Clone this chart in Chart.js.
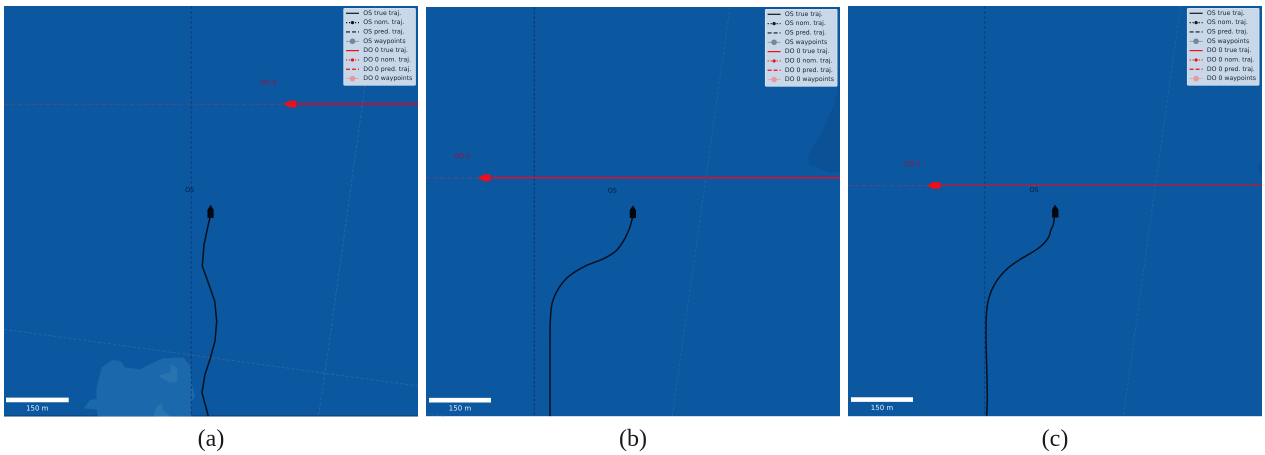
<!DOCTYPE html>
<html>
<head>
<meta charset="utf-8">
<title>Trajectories</title>
<script src="https://cdn.jsdelivr.net/npm/chart.js@4"></script>
<style>
    html, body { margin: 0; padding: 0; background: #fff; overflow: hidden; }
    canvas { position: absolute; top: 0; filter: blur(0.45px); }
</style>
</head>
<body>
<canvas id="panelA" style="left:4px"></canvas>
<canvas id="panelB" style="left:426px"></canvas>
<canvas id="panelC" style="left:848px"></canvas>
<script>
// --- DATA --- (x, y, origin at its top left corner, 150 m = 62 units)
const legendLabels = ['OS true traj.', 'OS nom. traj.', 'OS pred. traj.', 'OS waypoints',
    'DO 0 true traj.', 'DO 0 nom. traj.', 'DO 0 pred. traj.', 'DO 0 waypoints'];
const captions = ['(a)', '(b)', '(c)'];
const scaleText = '150 m';
const osText = 'OS';
const doText = 'DO 0';

const trajA = [[206,212],[204.3,219],[200,239],[198.3,260.7],[204.3,277.3],[210.7,295.7],[212.7,315.7],[211,335.7],[206,354],[201,369],[198,387.3],[204.3,411]];
const trajB = [[206.5,211],[204.7,218],[203,223],[198.3,233],[189.7,244.7],[177.3,252.3],[159,259.7],[143,269.7],[133,281.3],[126.3,296.3],[124.3,314.7],[124,351.3],[124,410]];
const trajC = [[206.3,211.7],[205.3,219],[203,224],[200.3,232.3],[191,242.3],[172,254],[160.3,262.3],[149.7,274],[142,289],[138.7,305],[138,329],[138.7,362.3],[139.3,392.3],[138.7,410.7]];

const osPredA = [[187.3,0],[187.3,411]];
const osPredB = [[108.3,0],[108.3,410]];
const osPredC = [[136.7,0],[136.7,411]];

const doTrueA = [[292,98.3],[414,98.3]];
const doTrueB = [[64,171],[414,171]];
const doTrueC = [[92,179.7],[414,179.7]];
const doPredA = [[0,98.5],[280,98.5]];
const doPredB = [[0,171.2],[52,171.2]];
const doPredC = [[0,180],[79,180]];

const osShipA = [[206.7,199.7],[209.3,204],[209.3,212],[203.7,212],[203.7,204]];
const osShipB = [[207,199],[209.7,203.5],[209.7,211.3],[204,211.3],[204,203.5]];
const osShipC = [[207,199.3],[210,204],[210,211.7],[204.3,211.7],[204.3,204]];
const doShipA = [[279.5,98.3],[285,95.5],[292,95],[292,101.5],[285,101]];
const doShipB = [[52.3,171],[58,168],[64,168],[64,174.3],[58,174.3]];
const doShipC = [[79.3,179.7],[85,176.7],[92,176.7],[92,182.7],[85,182.9]];

const laneA1 = [[372,0],[341.7,219],[321,367.3],[314.3,411]];
const laneA2 = [[0,324],[187.7,349.7],[321,368],[414,380.7]];
const laneB1 = [[304,0],[273.3,218],[246.3,410]];
const laneB2 = [[0,407.3],[19,410]];
const laneC1 = [[332.5,0],[302,219],[275.3,410.7]];

const landA = [[80,403],[86,395],[92.7,394],[92.7,382.3],[97.7,362.3],[107.7,355],[116,355.7],[121,362.3],[136,364.3],[146,359],[159.3,353],[179.3,352.3],[186,360.7],[187.7,379],[191,391.7],[187.7,395.7],[186.7,411],[94.3,411],[92.7,404]];
const landPatchA1 = [[154.3,370.7],[166,367.3],[166.7,359],[172.7,362.3],[173.3,375.7],[166,377.3]];
const landPatchA2 = [[150,411],[152,402.3],[157.7,397.3],[159.3,405.7],[166,411]];
const deepB = [[414,75],[409,96.3],[399,119.7],[382.3,149.7],[384,158],[404,165.3],[414,164.7]];
const deepC = [[414,154],[409.7,160.7],[411.3,166.7],[414,168]];

const scaleBarA = [[2,394.7],[64.7,394.7]];
const scaleBarB = [[3,394],[65,394]];
const scaleBarC = [[3,394.3],[65,394.3]];

const osLabelPos = [[185.7,184.7],[186.3,184.3],[186,184.7]];
const doLabelPos = [[264.7,77],[36.3,149.7],[64.3,158.7]];
const scaleLabelPos = [[33.3,403.3],[34,402.3],[34,403]];
const legendPos = [[339.7,2.3],[339.3,2.3],[339.3,2.3]];

const SEA = '#0c58a0';
const FONT = '"DejaVu Sans"';

// --- HELPERS ---
const pts = (arr) => arr.map(p => ({ x: p[0], y: p[1] }));

function line(arr, color, width, dash, tension) {
    return { data: pts(arr), showLine: true, pointRadius: 0, borderColor: color, borderWidth: width, borderDash: dash || [], fill: false, tension: tension || 0 };
}

function poly(arr, color) {
    return { data: pts(arr.concat([arr[0]])), showLine: true, pointRadius: 0, borderColor: color, borderWidth: 0.5, backgroundColor: color, fill: 'shape', tension: 0 };
}

// sample of one legend row
function drawSample(ctx, x, y, kind, color, wpColor) {
    const w = 13;
    ctx.save();
    ctx.strokeStyle = color;
    ctx.fillStyle = color;
    ctx.lineWidth = 1.2;
    ctx.beginPath();
    if (kind === 'nom') ctx.setLineDash([1.2, 1.8]);
    if (kind === 'pred') ctx.setLineDash([4, 2]);
    if (kind === 'way') { ctx.strokeStyle = wpColor; ctx.lineWidth = 0.7; }
    ctx.moveTo(x, y);
    ctx.lineTo(x + w, y);
    ctx.stroke();
    ctx.setLineDash([]);
    if (kind === 'nom' || kind === 'way') {
        ctx.fillStyle = kind === 'way' ? wpColor : color;
        ctx.beginPath();
        ctx.arc(x + w / 2, y, kind === 'way' ? 2.8 : 1.6, 0, Math.PI * 2);
        ctx.fill();
    }
    ctx.restore();
}

// sea background, text labels and the legend box
const panelPlugin = {
    id: 'panelPlugin',
    beforeDraw(chart) {
        const a = chart.chartArea;
        chart.ctx.fillStyle = SEA;
        chart.ctx.fillRect(a.left, a.top, a.right - a.left, a.bottom - a.top);
    },
    afterDatasetsDraw(chart) {
        const ctx = chart.ctx;
        const i = chart.options.plugins.panelPlugin.index;
        const sx = chart.scales.x, sy = chart.scales.y;
        const put = (txt, p, color, size) => {
            ctx.fillStyle = color;
            ctx.font = size + 'px ' + FONT;
            ctx.textAlign = 'center';
            ctx.textBaseline = 'middle';
            ctx.fillText(txt, sx.getPixelForValue(p[0]), sy.getPixelForValue(p[1]));
        };
        ctx.save();
        put(osText, osLabelPos[i], '#04183a', 6.4);
        put(doText, doLabelPos[i], '#9c1238', 6.4);
        put(scaleText, scaleLabelPos[i], '#e4eef8', 7);

        // legend box
        const lx = sx.getPixelForValue(legendPos[i][0]);
        const ly = sy.getPixelForValue(legendPos[i][1]);
        ctx.fillStyle = '#c9d8e8';
        ctx.strokeStyle = '#dbe5ef';
        ctx.lineWidth = 0.7;
        ctx.beginPath();
        ctx.roundRect(lx, ly, 71.8, 77, 1);
        ctx.fill();
        ctx.stroke();
        const kinds = ['true', 'nom', 'pred', 'way'];
        legendLabels.forEach((txt, r) => {
            const y = ly + 5 + r * 9.33;
            const isOs = r < 4;
            drawSample(ctx, lx + 2.3, y, kinds[r % 4], isOs ? '#10151c' : '#ee1111', isOs ? '#76879a' : '#e69aa0');
            ctx.fillStyle = '#18222e';
            ctx.font = '6.2px ' + FONT;
            ctx.textAlign = 'left';
            ctx.textBaseline = 'middle';
            ctx.fillText(txt, lx + 19.6, y);
        });
        ctx.restore();
    }
};

// --- CHARTS ---
function makePanel(id, index, top, height, bottomBorder, datasets) {
    const canvas = document.getElementById(id);
    return new Chart(canvas, {
        type: 'scatter',
        data: { datasets: datasets },
        plugins: [panelPlugin],
        options: {
            responsive: false,
            animation: false,
            devicePixelRatio: 2,
            layout: { padding: { top: top, left: 0, right: 0, bottom: 0 } },
            plugins: {
                legend: { display: false },
                tooltip: { enabled: false },
                panelPlugin: { index: index }
            },
            scales: {
                x: {
                    min: 0, max: 414,
                    ticks: { display: false },
                    grid: { display: false, drawTicks: false },
                    border: { display: bottomBorder, color: '#0a3a66', width: 1 },
                    title: {
                        display: true,
                        text: captions[index],
                        color: '#1a1a1a',
                        font: { family: '"Liberation Serif"', size: 24 },
                        padding: { top: 9, bottom: 1 }
                    }
                },
                y: {
                    display: false,
                    reverse: true,
                    min: 0, max: height
                }
            }
        }
    });
}

function sizeCanvas(id) {
    const c = document.getElementById(id);
    c.width = 414;
    c.height = 455;
    c.style.width = '414px';
    c.style.height = '455px';
}

window.onload = () => {
    ['panelA', 'panelB', 'panelC'].forEach(sizeCanvas);

    // first dataset in the list ends up on top
    makePanel('panelA', 0, 6, 411, true, [
        poly(osShipA, '#05080f'),
        poly(doShipA, '#ee0f1b'),
        line(scaleBarA, '#ffffff', 4.6),
        line(trajA, '#06101e', 1.5),
        line(doTrueA, '#a91a42', 2.2),
        line(doPredA, '#5f4680', 1, [4, 3]),
        line(osPredA, '#0a3f78', 1, [3, 2]),
        line(laneA1, '#2a68a6', 0.9, [3, 2]),
        line(laneA2, '#2a68a6', 0.9, [3, 2]),
        poly(landPatchA1, '#2a73b3'),
        poly(landPatchA2, '#2a73b3'),
        poly(landA, '#1b68ac')
    ]);

    makePanel('panelB', 1, 7, 410, false, [
        poly(osShipB, '#05080f'),
        poly(doShipB, '#ee0f1b'),
        line(scaleBarB, '#ffffff', 4.6),
        line(trajB, '#06101e', 1.5, [], 0.3),
        line(doTrueB, '#bd1a3c', 1.8),
        line(doPredB, '#5f4680', 1, [4, 3]),
        line(osPredB, '#0a3f78', 1.4, [3, 1.5]),
        line(laneB1, '#2263a5', 0.9, [3, 2]),
        line(laneB2, '#2263a5', 0.9, [3, 2]),
        poly(deepB, '#0b5195')
    ]);

    makePanel('panelC', 2, 6, 411, false, [
        poly(osShipC, '#05080f'),
        poly(doShipC, '#ee0f1b'),
        line(scaleBarC, '#ffffff', 4.6),
        line(trajC, '#06101e', 1.5, [], 0.3),
        line(doTrueC, '#c8162f', 1.3),
        line(doPredC, '#5f4680', 1, [4, 3]),
        line(osPredC, '#0a3f78', 1, [3, 2]),
        line(laneC1, '#2263a5', 0.9, [3, 2]),
        poly(deepC, '#0b5195')
    ]);
};
</script>
</body>
</html>
